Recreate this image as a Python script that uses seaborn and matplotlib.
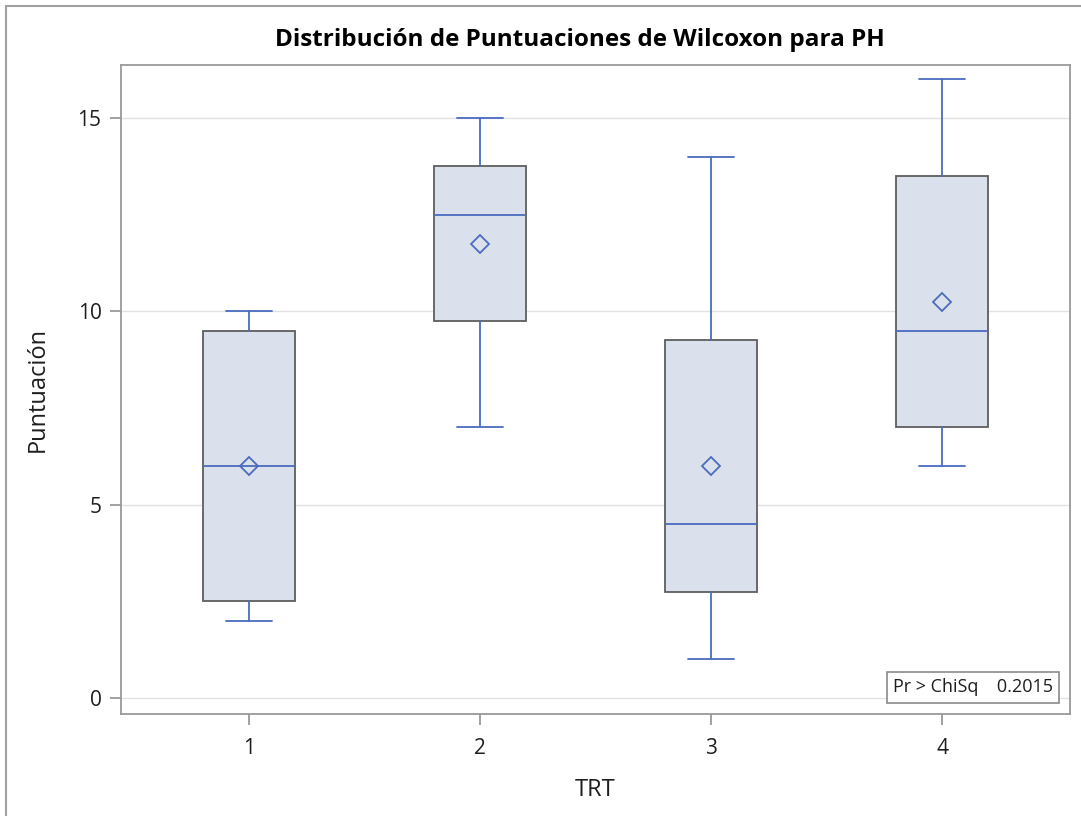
import matplotlib
matplotlib.use("Agg")
import matplotlib.pyplot as plt
import seaborn as sns
from matplotlib.patches import Rectangle

# ---- data (Wilcoxon score summaries per TRT group) ----
trt = ["1", "2", "3", "4"]
whisker_low = [2.0, 7.0, 1.0, 6.0]
q1 = [2.5, 9.75, 2.75, 7.0]
median = [6.0, 12.5, 4.5, 9.5]
q3 = [9.5, 13.75, 9.25, 13.5]
whisker_high = [10.0, 15.0, 14.0, 16.0]
mean = [6.0, 11.75, 6.0, 10.25]
y_ticks = [0, 5, 10, 15]
p_label = "Pr > ChiSq"
p_value = "0.2015"

sns.set_theme(style="white")
plt.rcParams['font.family'] = ['Open Sans', 'DejaVu Sans']

box_fill = "#DAE1EC"
box_edge = "#5E5E5E"
line_blue = "#4A6BBF"

fig = plt.figure(figsize=(10.81, 8.16), dpi=100)
ax = fig.add_axes([121/1081, 1-714/816, (1070-121)/1081, (714-65)/816])

stats = []
for i in range(len(trt)):
    stats.append(dict(label=trt[i], whislo=whisker_low[i], q1=q1[i], med=median[i],
                      q3=q3[i], whishi=whisker_high[i], mean=mean[i], fliers=[]))

positions = list(range(1, len(trt) + 1))
ax.bxp(stats, positions=positions, widths=0.40, patch_artist=True, showmeans=True,
       showfliers=False,
       boxprops=dict(facecolor=box_fill, edgecolor=box_edge, linewidth=1.3),
       whiskerprops=dict(color=line_blue, linewidth=1.3),
       capprops=dict(color=line_blue, linewidth=1.3),
       medianprops=dict(color=line_blue, linewidth=1.3),
       meanprops=dict(marker="D", markerfacecolor="none", markeredgecolor=line_blue,
                      markersize=9, markeredgewidth=1.3),
       capwidths=0.20, zorder=3)

ax.set_xlim(0.446, 4.554)
ax.set_ylim(-0.41, 16.37)
ax.set_yticks(y_ticks)
ax.set_yticklabels([str(t) for t in y_ticks])
ax.set_xticks(positions)
ax.set_xticklabels(trt)
ax.yaxis.grid(True, color="#E2E2E2", linewidth=1.0, zorder=0)
ax.set_axisbelow(True)

for s in ax.spines.values():
    s.set_color("#9A9A9A")
    s.set_linewidth(1.3)
ax.tick_params(axis="both", which="both", length=8, width=1.3, color="#9A9A9A",
               labelsize=15, labelcolor="#1E1E1E")
ax.tick_params(axis="x", pad=9)
ax.tick_params(axis="y", pad=6)
ax.tick_params(left=True, bottom=True)

ax.set_xlabel("TRT", fontsize=17, color="#1E1E1E", labelpad=14)
ax.set_ylabel("Puntuación", fontsize=17, color="#1E1E1E", labelpad=20)
fig.text((277+883)/2/1081, 1-40/816, "Distribución de Puntuaciones de Wilcoxon para PH",
         ha="center", va="center", fontsize=17.5, fontweight="bold", color="black")

ax.text(0.982, 0.027, f"{p_label}    {p_value}", transform=ax.transAxes, ha="right",
        va="bottom", fontsize=13, color="#1E1E1E",
        bbox=dict(boxstyle="square,pad=0.35", facecolor="white", edgecolor="#8A8A8A",
                  linewidth=1.2))

# outer border
fig.patches.append(Rectangle((6/1081, -0.05), 1.2, 1-6/816+0.05, transform=fig.transFigure,
                             fill=False, edgecolor="#A0A0A0", linewidth=1.5))

fig.savefig("out.png", dpi=100, facecolor="white")
